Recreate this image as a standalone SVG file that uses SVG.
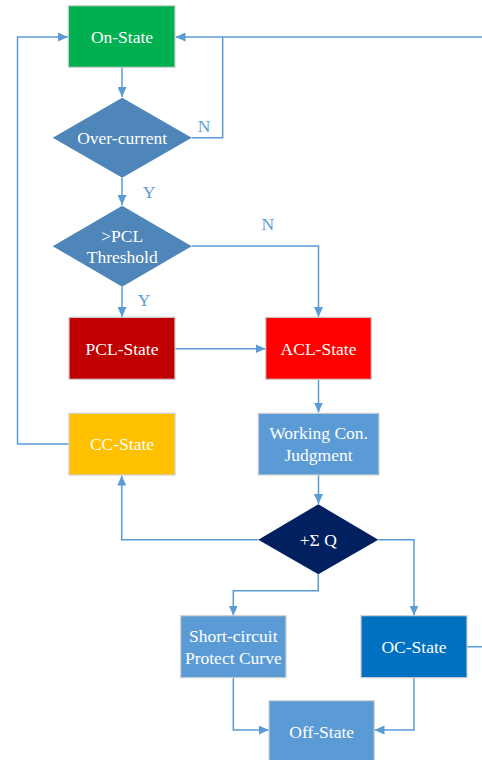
<svg xmlns="http://www.w3.org/2000/svg" width="482" height="760" viewBox="0 0 482 760">
<defs>
<marker id="ah" markerWidth="10" markerHeight="9" refX="10" refY="4.5" orient="auto" markerUnits="userSpaceOnUse">
<path d="M0,0 L10,4.5 L0,9 Z" fill="#5B9BD5"/>
</marker>
<style>
.box{stroke:#D0D0D0;stroke-width:1.2}
.dia{stroke:none}
.t{font-family:"Liberation Serif","Times New Roman",serif;font-size:17.5px;fill:#FFFFFF;text-anchor:middle}
.lb{font-family:"Liberation Serif","Times New Roman",serif;font-size:17.5px;fill:#5B9BD5;text-anchor:middle}
.c{fill:none;stroke:#5B9BD5;stroke-width:1.5}
</style>
</defs>
<rect width="482" height="760" fill="#FFFFFF"/>
<g id="connectors">
<path class="c" d="M122,67 V97" marker-end="url(#ah)"/>
<path class="c" d="M191.7,137.7 H222.7 V37" />
<path class="c" d="M490,37 H175.5" marker-end="url(#ah)"/>
<path class="c" d="M69,444 H17.5 V37 H68" marker-end="url(#ah)"/>
<path class="c" d="M122,177.7 V205" marker-end="url(#ah)"/>
<path class="c" d="M191.7,246 H318.5 V317" marker-end="url(#ah)"/>
<path class="c" d="M122,286.7 V317" marker-end="url(#ah)"/>
<path class="c" d="M175,348.7 H265.5" marker-end="url(#ah)"/>
<path class="c" d="M318.5,379.3 V412.5" marker-end="url(#ah)"/>
<path class="c" d="M318.5,475 V504" marker-end="url(#ah)"/>
<path class="c" d="M258.3,539.7 H121.7 V475.5" marker-end="url(#ah)"/>
<path class="c" d="M378.3,539.7 H414 V615.5" marker-end="url(#ah)"/>
<path class="c" d="M318.3,574.3 V590.7 H233.3 V615.5" marker-end="url(#ah)"/>
<path class="c" d="M467,646.7 H490 V37"/>
<path class="c" d="M233.3,677.7 V730 H268.8" marker-end="url(#ah)"/>
<path class="c" d="M414,677.7 V730 H374.5" marker-end="url(#ah)"/>
</g>
<g id="labels">
<text class="lb" x="204" y="132">N</text>
<text class="lb" x="149" y="197.5">Y</text>
<text class="lb" x="267.7" y="230">N</text>
<text class="lb" x="144" y="306">Y</text>
</g>
<g id="on-state">
<rect class="box" x="68.3" y="5.7" width="106.7" height="61.6" fill="#00B050"/>
<text class="t" x="122" y="43">On-State</text>
</g>
<g id="over-current">
<polygon class="dia" points="122.2,97.7 191.7,137.7 122.2,177.7 52.7,137.7" fill="#4F86B9"/>
<text class="t" x="122.2" y="143.5">Over-current</text>
</g>
<g id="pcl-threshold">
<polygon class="dia" points="122.2,205.7 191.7,246.2 122.2,286.7 52.7,246.2" fill="#4F86B9"/>
<text class="t" x="122.2" y="242">&gt;PCL</text>
<text class="t" x="122.2" y="262.5">Threshold</text>
</g>
<g id="pcl-state">
<rect class="box" x="69" y="317.3" width="106" height="62" fill="#C00000"/>
<text class="t" x="122" y="354.5">PCL-State</text>
</g>
<g id="acl-state">
<rect class="box" x="265.7" y="317.3" width="105.6" height="62" fill="#FF0000"/>
<text class="t" x="318.5" y="354.5">ACL-State</text>
</g>
<g id="cc-state">
<rect class="box" x="69" y="413.3" width="106" height="61.7" fill="#FFC000"/>
<text class="t" x="122" y="450">CC-State</text>
</g>
<g id="working-con">
<rect class="box" x="258.3" y="413.3" width="120.7" height="61.7" fill="#5B9BD5"/>
<text class="t" x="318.6" y="439">Working Con.</text>
<text class="t" x="318.6" y="461">Judgment</text>
</g>
<g id="sum-q">
<polygon class="dia" points="318.3,504.3 378.3,539.7 318.3,574.3 258.3,539.7" fill="#002060"/>
<text class="t" x="318.3" y="545.5">+Σ Q</text>
</g>
<g id="short-circuit">
<rect class="box" x="180.7" y="615.7" width="105.3" height="62" fill="#5B9BD5"/>
<text class="t" x="233.3" y="642">Short-circuit</text>
<text class="t" x="233.3" y="663.5">Protect Curve</text>
</g>
<g id="oc-state">
<rect class="box" x="361" y="615.7" width="106" height="62" fill="#0070C0"/>
<text class="t" x="414" y="652.5">OC-State</text>
</g>
<g id="off-state">
<rect class="box" x="269" y="700.7" width="105.3" height="70" fill="#5B9BD5"/>
<text class="t" x="321.7" y="737.5">Off-State</text>
</g>
</svg>
